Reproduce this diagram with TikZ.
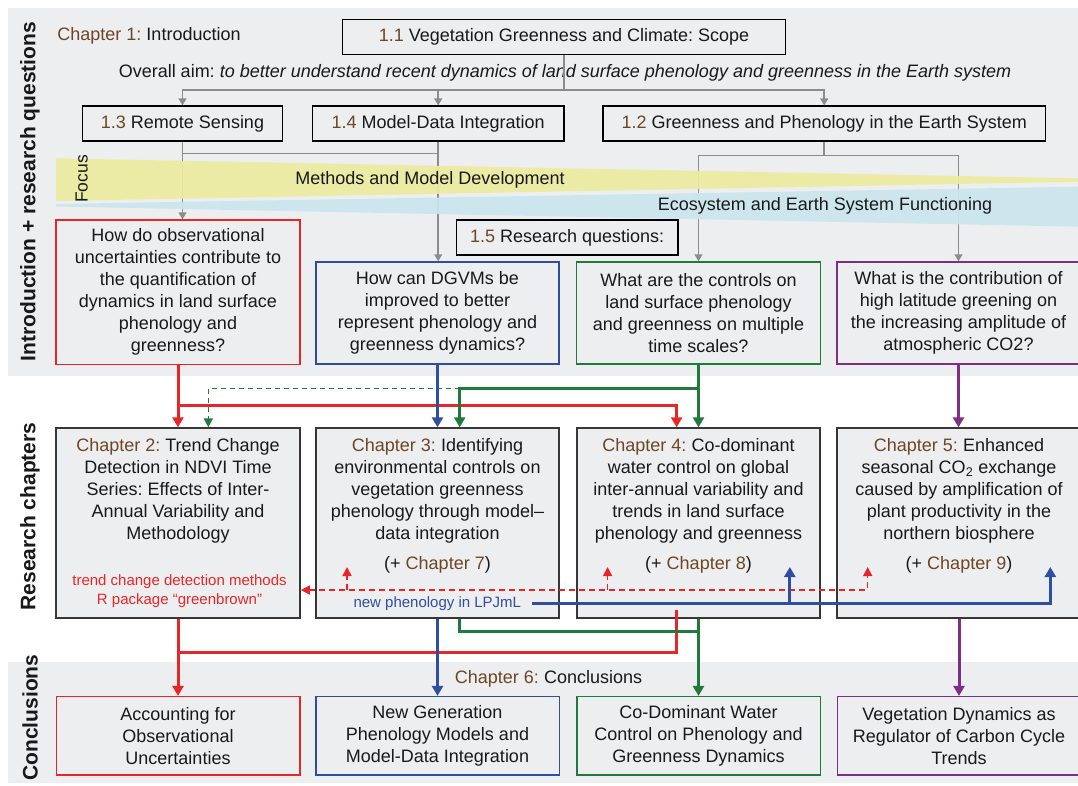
\documentclass[tikz,border=0pt]{standalone}
\usepackage{fontspec}
\setmainfont{Liberation Sans}
\usetikzlibrary{arrows.meta,calc}
\frenchspacing
\definecolor{panel}{RGB}{237,238,239}
\definecolor{brn}{RGB}{110,70,35}
\definecolor{cred}{RGB}{232,38,42}
\definecolor{cblue}{RGB}{47,78,159}
\definecolor{cgreen}{RGB}{30,123,60}
\definecolor{cpurple}{RGB}{125,47,134}
\definecolor{gline}{RGB}{140,140,140}
\definecolor{wyellow}{RGB}{235,235,160}
\definecolor{wblue}{RGB}{203,230,238}
\definecolor{txt}{RGB}{25,25,25}
\definecolor{cborder}{RGB}{55,55,55}
\tikzset{
 hbox/.style={draw=black, line width=1.6pt, fill=panel, inner sep=0pt, minimum height=35pt},
 qbox/.style={line width=1.5pt, fill=panel, inner sep=0pt, align=center},
 cbox/.style={draw=cborder, line width=2pt, fill=panel, inner sep=0pt, minimum width=243.6pt, minimum height=189.4pt},
 ctext/.style={align=center, inner sep=0pt},
 kbox/.style={line width=1.5pt, fill=panel, inner sep=0pt, align=center, minimum width=243.5pt, minimum height=78.3pt},
 lab/.style={rotate=90, inner sep=0pt, font=\fontsize{21}{25}\selectfont\bfseries},
 gl/.style={draw=gline, line width=1.5pt},
 ga/.style={gl, -{Triangle[width=8pt,length=7pt]}},
 tipc/.style={-{Triangle[width=11pt,length=10pt]}},
 rl/.style={draw=cred, line width=3pt},
 ra/.style={rl, tipc},
 bl/.style={draw=cblue, line width=3pt},
 ba/.style={bl, tipc},
 grl/.style={draw=cgreen, line width=3pt},
 gra/.style={grl, tipc},
 pl/.style={draw=cpurple, line width=3pt},
 pa/.style={pl, tipc},
 gda/.style={draw=cgreen, line width=1.5pt, dash pattern=on 5pt off 4pt, -{Triangle[width=9pt,length=9pt]}},
 rdl/.style={draw=cred, line width=1.5pt, dash pattern=on 6pt off 4pt},
 rda/.style={rdl, -{Triangle[width=9pt,length=9pt]}},
}
\begin{document}
\begin{tikzpicture}[x=1pt,y=-1pt, font=\fontsize{18}{22}\selectfont, text=txt]
\useasboundingbox (0,0) rectangle (1078,785);
\fill[white] (0,0) rectangle (1078,785);
% panels
\fill[panel] (8,8) rectangle (1078,376);
\fill[panel] (8,661.7) rectangle (1078,783.3);

% side labels
\node[lab] (l1) at (30,191.5) {Introduction + research questions};
\node[lab] (l2) at (30,516.5) {Research chapters};
\node[lab] (l3) at (30,717.5) {Conclusions};

% chapter 1 header
\node[inner sep=0pt] (ch1) at (149,35.5) {\textcolor{brn}{Chapter 1:} Introduction};
\node[hbox, minimum width=442.8pt] (h11) at (564,36.8) {\textcolor{brn}{1.1} Vegetation Greenness and Climate: Scope};
\node[inner sep=0pt] (aim) at (565,73.3) {Overall aim: \textit{to better understand recent dynamics of land surface phenology and greenness in the Earth system}};
\node[hbox, minimum width=199.8pt] (h13) at (182.5,123.7) {\textcolor{brn}{1.3} Remote Sensing};
\node[hbox, minimum width=251.7pt] (h14) at (438.2,123.7) {\textcolor{brn}{1.4} Model-Data Integration};
\node[hbox, minimum width=442.7pt] (h12) at (824.2,123.7) {\textcolor{brn}{1.2} Greenness and Phenology in the Earth System};
\node[hbox, minimum width=221.7pt] (h15) at (567.2,237.5) {\textcolor{brn}{1.5} Research questions:};

% question boxes
\node[qbox, draw=cred, minimum width=244pt, minimum height=144.3pt] (q1) at (178,292.2) {How do observational\\uncertainties contribute to\\the quantification of\\dynamics in land surface\\phenology and\\greenness?};
\node[qbox, draw=cblue, minimum width=243pt, minimum height=102pt] (q2) at (437.5,313) {How can DGVMs be\\improved to better\\represent phenology and\\greenness dynamics?};
\node[qbox, draw=cgreen, minimum width=243.7pt, minimum height=102pt] (q3) at (698.5,313) {What are the controls on\\land surface phenology\\and greenness on multiple\\time scales?};
\node[qbox, draw=cpurple, minimum width=243.5pt, minimum height=102pt] (q4) at (958.5,313) {What is the contribution of\\high latitude greening on\\the increasing amplitude of\\atmospheric CO2?};

% gray connectors
\coordinate (j1) at (564,90);
\draw[gl] (h11.south) -- (j1);
\draw[ga] (j1) -| (h13.north);
\draw[ga] (j1) -| (h14.north);
\draw[ga] (j1) -| (h12.north);
\coordinate (j2) at (182.5,153.3);
\draw[ga] (h13.south) -- (h13.south |- q1.north);
\draw[ga] (h14.south) -- (h14.south |- q2.north);
\draw[gl] (j2) -- (h14.south |- j2);
\coordinate (j3) at (824.2,155.7);
\draw[gl] (h12.south) -- (j3);
\draw[ga] (j3) -| (q3.north);
\draw[ga] (j3) -| (q4.north);

% focus wedges
\fill[wblue, fill opacity=0.92] (56,204) -- (1078,186.7) -- (1078,226.7) -- (56,206.5) -- cycle;
\fill[wyellow, fill opacity=0.92] (56,158.3) -- (1078,178.3) -- (1078,181.7) -- (56,201) -- cycle;
\node[inner sep=0pt, rotate=90, font=\fontsize{17.5}{20}\selectfont] (focus) at (81.6,179) {Focus};
\node[inner sep=0pt] (mmd) at (430,180) {Methods and Model Development};
\node[inner sep=0pt] (eesf) at (825,206) {Ecosystem and Earth System Functioning};

% chapter boxes
\node[cbox] (c2) at (178,523) {};
\node[cbox] (c3) at (437.5,523) {};
\node[cbox] (c4) at (698.5,523) {};
\node[cbox] (c5) at (959,523) {};
\node[ctext] (c2t) at (178,491) {\textcolor{brn}{Chapter 2:} Trend Change\\Detection in NDVI Time\\Series: Effects of Inter-\\Annual Variability and\\Methodology};
\node[ctext] (c3t) at (437.5,491) {\textcolor{brn}{Chapter 3:} Identifying\\environmental controls on\\vegetation greenness\\phenology through model--\\data integration};
\node[ctext] (c4t) at (698.5,491) {\textcolor{brn}{Chapter 4:} Co-dominant\\water control on global\\inter-annual variability and\\trends in land surface\\phenology and greenness};
\node[ctext] (c5t) at (959,491) {\textcolor{brn}{Chapter 5:} Enhanced\\seasonal CO\textsubscript{2} exchange\\caused by amplification of\\plant productivity in the\\northern biosphere};
\node[ctext] (c3p) at (437.5,565) {(+ \textcolor{brn}{Chapter 7})};
\node[ctext] (c4p) at (698.5,565) {(+ \textcolor{brn}{Chapter 8})};
\node[ctext] (c5p) at (959,565) {(+ \textcolor{brn}{Chapter 9})};
\node[ctext, text=cred, font=\fontsize{15}{18.3}\selectfont] (c2r) at (179.5,591) {trend change detection methods\\R package “greenbrown”};
\node[ctext, text=cblue, font=\fontsize{15}{18}\selectfont] (np) at (437.3,603.3) {new phenology in LPJmL};

% conclusion boxes
\node[kbox, draw=cred] (k1) at (178,735.8) {Accounting for\\Observational\\Uncertainties};
\node[kbox, draw=cblue] (k2) at (437.5,735.8) {New Generation\\Phenology Models and\\Model-Data Integration};
\node[kbox, draw=cgreen] (k3) at (698.5,735.8) {Co-Dominant Water\\Control on Phenology and\\Greenness Dynamics};
\node[kbox, draw=cpurple] (k4) at (959,735.8) {Vegetation Dynamics as\\Regulator of Carbon Cycle\\Trends};
\node[inner sep=0pt] (ch6) at (548.5,679) {\textcolor{brn}{Chapter 6:} Conclusions};

% questions -> chapters
\coordinate (gj) at (698.5,388.3);
\coordinate (c3in) at ([xshift=22.2pt]c3.north);
\coordinate (c2in) at ([xshift=30.3pt]c2.north);
\coordinate (c4in) at ([xshift=-21.9pt]c4.north);
\draw[gda] (c3in |- gj) -| (c2in);
\draw[ra] (q1.south) -- (c2.north);
\coordinate (rj) at (178,405.7);
\draw[ra] (rj) -| (c4in);
\draw[ba] (q2.south) -- (c3.north);
\draw[gra] (q3.south) -- (c4.north);
\draw[gra] (gj) -| (c3in);
\draw[pa] (q4.south) -- (q4.south |- c5.north);

% links between chapters
\coordinate (rdR) at (867.7,590);
\coordinate (rdT) at (867.7,567);
\draw[rdl, {Triangle[width=9pt,length=9pt]}-{Triangle[width=9pt,length=9pt]}] (c2.east |- rdR) -- (rdR) -- (rdT);
\coordinate (rd1) at (347,590);
\coordinate (rd2) at (607.6,590);
\draw[rda] (rd1) -- (347,567);
\draw[rda] (rd2) -- (607.6,567);
\coordinate (bR) at (1050.3,603.3);
\coordinate (bM) at (789.8,603.3);
\draw[ba] ([xshift=11pt]np.east) -- (bR) -- (1050.3,567);
\draw[ba] (bM) -- (789.8,567);

% chapters -> conclusions
\coordinate (rb) at (178,652.3);
\coordinate (r4) at (676.9,609.5);
\draw[rl] (rb) -| (r4);
\coordinate (c3out) at ([xshift=22.2pt]c3.south);
\coordinate (gb) at (698.5,631.7);
\draw[grl] (c3out) |- (gb);
\draw[ra] (c2.south) -- (k1.north);
\draw[ba] (c3.south) -- (k2.north);
\draw[gra] (c4.south) -- (k3.north);
\draw[pa] (c5.south) -- (c5.south |- k4.north);
\end{tikzpicture}
\end{document}
